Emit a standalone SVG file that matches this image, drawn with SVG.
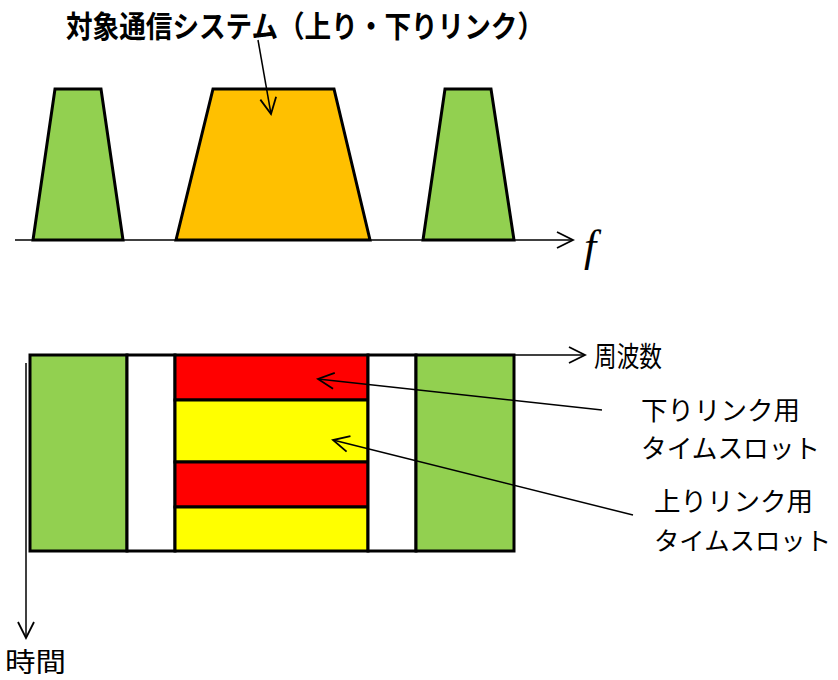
<svg xmlns="http://www.w3.org/2000/svg" width="838" height="680" viewBox="0 0 838 680">
<defs>
<style>
.jp{font-family:"Noto Sans CJK JP","Noto Sans CJK SC",sans-serif;fill:#000}
.ln{stroke:#000;stroke-width:1.5;fill:none}
.sh{stroke:#000;stroke-width:3;stroke-linejoin:miter}
</style>
<marker id="ah" viewBox="0 0 20 20" refX="18" refY="10" markerWidth="20" markerHeight="20" markerUnits="userSpaceOnUse" orient="auto">
<path d="M2,2 L18,10 L2,18" fill="none" stroke="#000" stroke-width="1.8"/>
</marker>
</defs>
<rect width="838" height="680" fill="#fff"/>
<g id="spectrum">
<polygon id="band-left" class="sh" points="33,240 55,89 101,89 123,240" fill="#92D050"/>
<polygon id="band-target" class="sh" points="176,240 213,89 334,89 370,240" fill="#FFC000"/>
<polygon id="band-right" class="sh" points="423,240 445,89 491,89 514,240" fill="#92D050"/>
</g>
<g id="grid">
<rect x="30" y="355" width="97" height="196" fill="#92D050" class="sh"/>
<rect x="127" y="355" width="48" height="196" fill="#fff" class="sh"/>
<rect x="175" y="355" width="193" height="45" fill="#FF0000" class="sh"/>
<rect x="175" y="400" width="193" height="62" fill="#FFFF00" class="sh"/>
<rect x="175" y="462" width="193" height="45" fill="#FF0000" class="sh"/>
<rect x="175" y="507" width="193" height="44" fill="#FFFF00" class="sh"/>
<rect x="368" y="355" width="48" height="196" fill="#fff" class="sh"/>
<rect x="416" y="355" width="98" height="196" fill="#92D050" class="sh"/>
</g>
<g id="connectors">
<line class="ln" x1="15" y1="240" x2="573" y2="240" marker-end="url(#ah)"/>
<line class="ln" x1="258" y1="40" x2="271" y2="114" marker-end="url(#ah)"/>
<line class="ln" x1="514" y1="355" x2="585" y2="355" marker-end="url(#ah)"/>
<line class="ln" x1="26" y1="363" x2="26" y2="638" marker-end="url(#ah)"/>
<line class="ln" x1="602" y1="410" x2="318" y2="379" marker-end="url(#ah)"/>
<line class="ln" x1="633" y1="515" x2="333" y2="440" marker-end="url(#ah)"/>
</g>
<g id="labels">
<text class="jp" x="66" y="37" font-size="30" font-weight="bold" textLength="478" lengthAdjust="spacingAndGlyphs">対象通信システム（上り・下りリンク）</text>
<text x="584" y="261" font-family="'Liberation Serif',serif" font-style="italic" font-size="44">f</text>
<text class="jp" x="594" y="367" font-size="28" textLength="68" lengthAdjust="spacingAndGlyphs">周波数</text>
<text class="jp" x="5" y="672" font-size="27" textLength="61" lengthAdjust="spacingAndGlyphs">時間</text>
<text class="jp" x="641" y="420" font-size="26" textLength="159" lengthAdjust="spacingAndGlyphs">下りリンク用</text>
<text class="jp" x="641" y="458" font-size="26" textLength="179" lengthAdjust="spacingAndGlyphs">タイムスロット</text>
<text class="jp" x="654" y="511" font-size="26" textLength="159" lengthAdjust="spacingAndGlyphs">上りリンク用</text>
<text class="jp" x="654" y="550" font-size="25" textLength="177" lengthAdjust="spacingAndGlyphs">タイムスロット</text>
</g>
</svg>
